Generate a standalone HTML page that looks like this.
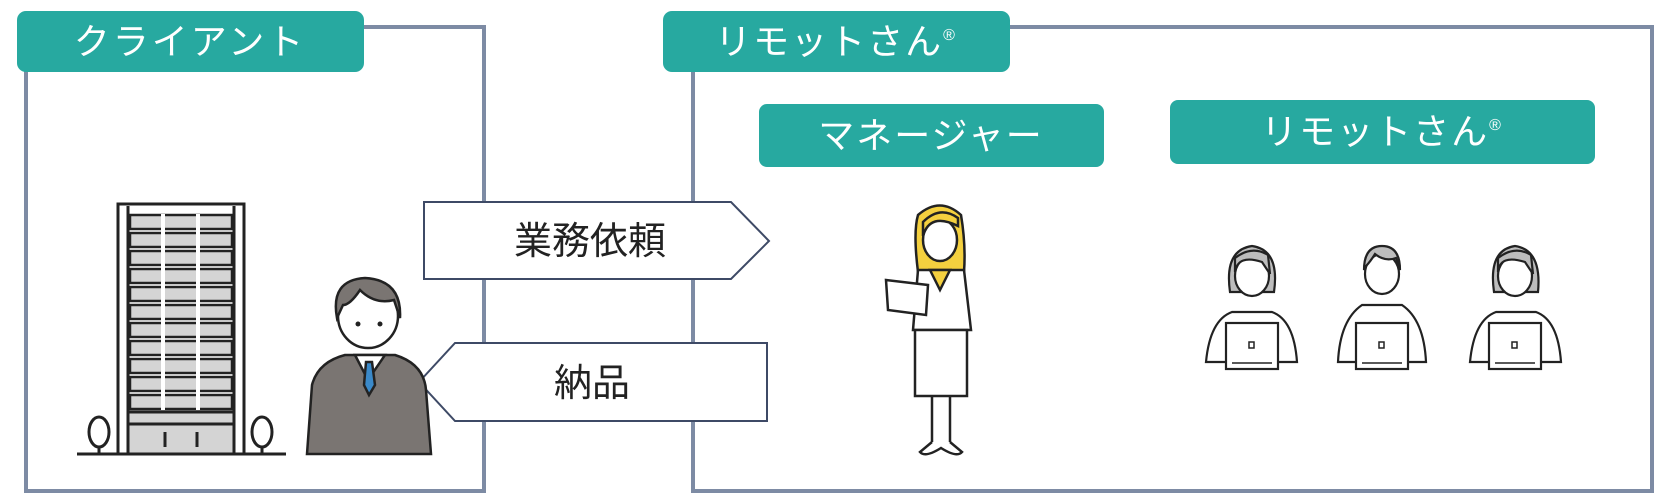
<!DOCTYPE html>
<html><head><meta charset="utf-8"><style>
html,body{margin:0;padding:0;background:#fff;}
svg{display:block}
text{font-family:"Liberation Sans","Noto Sans CJK JP",sans-serif;}
</style></head><body>
<svg width="1671" height="499" viewBox="0 0 1671 499" xmlns="http://www.w3.org/2000/svg">
<!-- frames -->
<rect x="26" y="27" width="458" height="464" fill="none" stroke="#7d8ba4" stroke-width="4"/>
<rect x="693" y="27" width="959" height="464" fill="none" stroke="#7d8ba4" stroke-width="4"/>
<!-- labels -->
<rect x="17" y="11" width="347" height="61" rx="9" fill="#27a9a0"/>
<text x="190" y="54" font-size="36" fill="#fff" text-anchor="middle" letter-spacing="3">クライアント</text>
<rect x="663" y="11" width="347" height="61" rx="9" fill="#27a9a0"/>
<text x="836" y="54" font-size="36" fill="#fff" text-anchor="middle" letter-spacing="2">リモットさん<tspan font-size="16" dy="-14">®</tspan></text>
<rect x="759" y="104" width="345" height="63" rx="8" fill="#27a9a0"/>
<text x="931" y="148" font-size="36" fill="#fff" text-anchor="middle" letter-spacing="2">マネージャー</text>
<rect x="1170" y="100" width="425" height="64" rx="8" fill="#27a9a0"/>
<text x="1382" y="144" font-size="36" fill="#fff" text-anchor="middle" letter-spacing="2">リモットさん<tspan font-size="16" dy="-14">®</tspan></text>
<!-- arrows -->
<polygon points="424,202 731,202 769,241 731,279 424,279" fill="#fff" stroke="#3e4a66" stroke-width="2"/>
<text x="590" y="254" font-size="38" fill="#222" text-anchor="middle">業務依頼</text>
<polygon points="419,382 455,343 767,343 767,421 455,421" fill="#fff" stroke="#3e4a66" stroke-width="2"/>
<text x="592" y="396" font-size="38" fill="#222" text-anchor="middle">納品</text>
<!-- building -->
<g stroke="#222" stroke-width="3">
<line x1="77" y1="454" x2="286" y2="454"/>
<rect x="118" y="204" width="126" height="250" fill="#fff"/>
<line x1="128" y1="206" x2="128" y2="452"/><line x1="234" y1="206" x2="234" y2="452"/>
<rect x="128" y="412" width="106" height="42" fill="#d4d4d4"/>
<line x1="128" y1="424" x2="234" y2="424"/>
<line x1="165" y1="432" x2="165" y2="447"/><line x1="197" y1="432" x2="197" y2="447"/>
<ellipse cx="99" cy="432" rx="10" ry="15" fill="#fff"/><line x1="99" y1="447" x2="99" y2="454"/>
<ellipse cx="262" cy="432" rx="10" ry="15" fill="#fff"/><line x1="262" y1="447" x2="262" y2="454"/>
</g>
<g fill="#d4d4d4" stroke="#222" stroke-width="2.5">
<rect x="130" y="215" width="102" height="14"/><rect x="130" y="233" width="102" height="14"/><rect x="130" y="251" width="102" height="14"/><rect x="130" y="269" width="102" height="14"/><rect x="130" y="287" width="102" height="14"/><rect x="130" y="305" width="102" height="14"/><rect x="130" y="323" width="102" height="14"/><rect x="130" y="341" width="102" height="14"/><rect x="130" y="359" width="102" height="14"/><rect x="130" y="377" width="102" height="14"/><rect x="130" y="395" width="102" height="14"/>
</g>
<g stroke="#fff" stroke-width="4"><line x1="163" y1="214" x2="163" y2="410"/><line x1="198" y1="214" x2="198" y2="410"/></g>
<!-- man -->
<g stroke="#222" stroke-width="2.5">
<path d="M307,454 L312,385 Q318,362 345,355 L395,355 Q424,364 426,390 L431,454 Z" fill="#7a7572"/>
<path d="M355,355 L368,380 L385,355 Z" fill="#fff"/>
<path d="M366,362 L372,362 L375,385 L369,395 L364,385 Z" fill="#3a89c9"/>
<ellipse cx="368" cy="316" rx="30" ry="32" fill="#fff"/>
<path d="M337,318 Q330,280 365,278 Q402,280 400,318 L394,300 Q375,305 360,290 Q350,305 343,305 Z" fill="#7a7572"/>
</g>
<circle cx="358" cy="324" r="2.5" fill="#222"/><circle cx="380" cy="324" r="2.5" fill="#222"/>
<!-- manager woman -->
<g stroke="#222" stroke-width="2.5">
<path d="M918,272 Q913,232 918,215 Q940,196 961,215 Q966,245 964,272 Z" fill="#f4d03f"/>
<ellipse cx="940" cy="240" rx="17" ry="21" fill="#fff"/>
<path d="M923,236 Q930,212 958,226 L958,218 Q940,205 923,222 Z" fill="#f4d03f"/>
<path d="M918,270 L964,270 L971,330 L913,330 Z" fill="#fff"/>
<path d="M930,270 L940,290 L950,270 Z" fill="#f4d03f"/>
<rect x="915" y="330" width="52" height="66" fill="#fff"/>
<line x1="932" y1="396" x2="932" y2="442"/><line x1="950" y1="396" x2="950" y2="442"/>
<path d="M932,442 L920,452 Q925,458 941,448 Q957,458 962,452 L950,442" fill="#fff"/>
<polygon points="886,280 928,285 926,315 888,310" fill="#fff"/>
</g>
<!-- workers -->
<g stroke="#222" stroke-width="2.2">
<g>
<path d="M1230,292 Q1224,250 1252,246 Q1280,250 1274,292 Z" fill="#bdbdbd"/>
<ellipse cx="1252" cy="276" rx="17" ry="20" fill="#fff"/>
<path d="M1235,272 Q1238,254 1262,262 L1270,274 L1268,255 Q1252,245 1235,258 Z" fill="#bdbdbd"/>
<path d="M1206,362 Q1210,320 1232,312 L1272,312 Q1294,320 1297,362 Z" fill="#fff"/>
<rect x="1226" y="323" width="52" height="46" fill="#fff"/>
</g>
<g>
<ellipse cx="1382" cy="274" rx="17" ry="20" fill="#fff"/>
<path d="M1364,270 Q1364,246 1382,246 Q1400,246 1400,270 L1396,258 Q1385,262 1375,254 Q1370,262 1366,266 Z" fill="#bdbdbd"/>
<path d="M1338,362 Q1340,320 1362,305 L1402,305 Q1424,320 1426,362 Z" fill="#fff"/>
<rect x="1356" y="323" width="52" height="46" fill="#fff"/>
</g>
<g>
<path d="M1494,292 Q1488,250 1515,246 Q1542,250 1538,292 Z" fill="#bdbdbd"/>
<ellipse cx="1515" cy="276" rx="17" ry="20" fill="#fff"/>
<path d="M1498,272 Q1500,254 1525,262 L1533,274 L1531,255 Q1515,245 1498,258 Z" fill="#bdbdbd"/>
<path d="M1470,362 Q1474,320 1496,312 L1536,312 Q1558,320 1561,362 Z" fill="#fff"/>
<rect x="1489" y="323" width="52" height="46" fill="#fff"/>
</g>
</g>
<g fill="none" stroke="#222" stroke-width="1.5">
<rect x="1249" y="342" width="5" height="6"/><rect x="1379" y="342" width="5" height="6"/><rect x="1512" y="342" width="5" height="6"/>
<line x1="1232" y1="363" x2="1272" y2="363"/><line x1="1362" y1="363" x2="1402" y2="363"/><line x1="1495" y1="363" x2="1535" y2="363"/>
</g>
</svg>
</body></html>
